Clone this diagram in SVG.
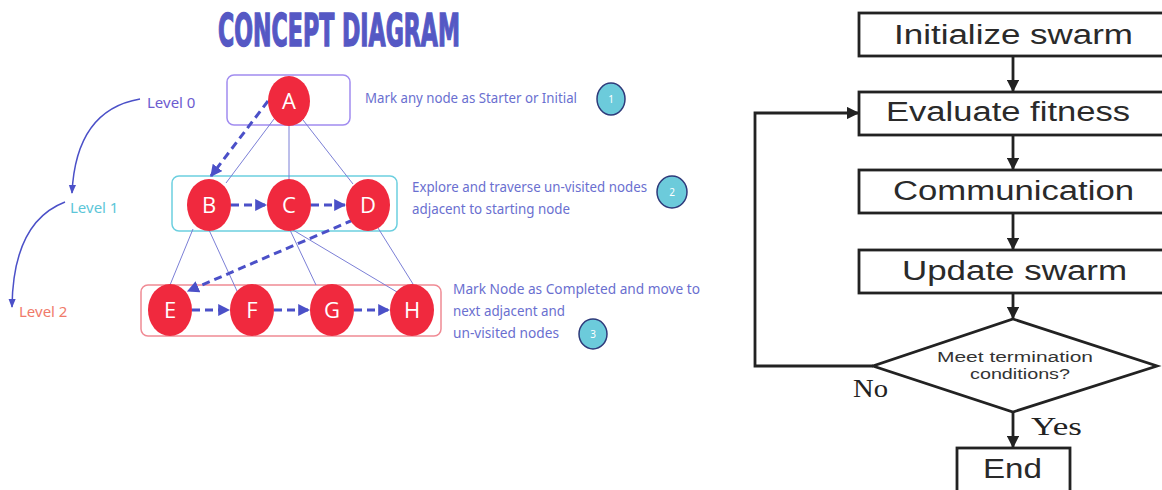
<svg xmlns="http://www.w3.org/2000/svg" width="1162" height="490" viewBox="0 0 1162 490">
<defs>
<marker id="dh" viewBox="0 0 10 10" refX="9" refY="5" markerWidth="4" markerHeight="4" orient="auto" markerUnits="strokeWidth"><path d="M0,0 L10,5 L0,10 z" fill="#4B50C8"/></marker>
<marker id="ch" viewBox="0 0 10 10" refX="9" refY="5" markerWidth="6" markerHeight="6" orient="auto" markerUnits="strokeWidth"><path d="M0,1 L10,5 L0,9 z" fill="#4B50C8"/></marker>
<marker id="bh" viewBox="0 0 10 10" refX="9" refY="5" markerWidth="4.5" markerHeight="4.5" orient="auto" markerUnits="strokeWidth"><path d="M0,0 L10,5 L0,10 z" fill="#222"/></marker>
</defs>
<style>
.node ellipse{fill:#F0293E}
.node text{fill:#fff;font-family:"Open Sans","Noto Sans",sans-serif;font-size:22px;text-anchor:middle}
.thin{stroke:#7B7FD6;stroke-width:1;fill:none}
.dash{stroke:#4B50C8;stroke-width:3;stroke-dasharray:8 5;fill:none;marker-end:url(#dh)}
.curve{stroke:#4B50C8;stroke-width:1.5;fill:none;marker-end:url(#ch)}
.desc{fill:#6A6FD0;font-family:"Noto Sans","Open Sans",sans-serif;font-size:15px}
.lvl{font-family:"Noto Sans","Open Sans",sans-serif;font-size:15px}
.badge ellipse{fill:#6CCBDB;stroke:#2E3A7A;stroke-width:1.5}
.badge text{fill:#fff;font-family:"Noto Sans",sans-serif;font-size:10px;text-anchor:middle}
.fbox rect{fill:#fff;stroke:#222;stroke-width:2.8}
.fbox text{fill:#2a2a2a;font-family:"Liberation Sans",Arial,sans-serif;font-size:27px}
.fl{stroke:#222;stroke-width:2.8;fill:none}
.fla{stroke:#222;stroke-width:2.8;fill:none;marker-end:url(#bh)}
.serif{fill:#222;font-family:"Liberation Serif","Times New Roman",serif;font-size:26px}
</style>
<rect width="1162" height="490" fill="#fff"/>
<text x="218" y="46" font-family="'DejaVu Sans Condensed','DejaVu Sans',sans-serif" font-weight="bold" font-size="44" fill="#5558C4" stroke="#5558C4" stroke-width="1.4" textLength="242" lengthAdjust="spacingAndGlyphs">CONCEPT DIAGRAM</text>

<g id="level-boxes">
<rect x="227" y="75" width="123" height="50" rx="7" fill="none" stroke="#A18CF0" stroke-width="1.5"/>
<rect x="172" y="176" width="225" height="55" rx="7" fill="none" stroke="#6CCFDF" stroke-width="1.5"/>
<rect x="141" y="285" width="300" height="51" rx="7" fill="none" stroke="#F08A94" stroke-width="1.5"/>
</g>

<g id="level-labels">
<text class="lvl" x="147" y="108" fill="#6C5BD0">Level 0</text>
<text class="lvl" x="70" y="213" fill="#5CC6D8">Level 1</text>
<text class="lvl" x="19" y="317" fill="#F07A6A">Level 2</text>
</g>

<g id="connectors">
<path class="curve" d="M140,99 Q76,110 72,193"/>
<path class="curve" d="M65,202 Q13,222 12,307"/>
<line class="thin" x1="274" y1="119" x2="226" y2="183"/>
<line class="thin" x1="289" y1="126" x2="289" y2="179"/>
<line class="thin" x1="303" y1="120" x2="353" y2="184"/>
<line class="thin" x1="193" y1="229" x2="170" y2="285"/>
<line class="thin" x1="209" y1="230" x2="237" y2="291"/>
<line class="thin" x1="290" y1="230" x2="316" y2="285"/>
<line class="thin" x1="293" y1="230" x2="397" y2="292"/>
<line class="thin" x1="378" y1="228" x2="413" y2="284"/>
<line class="dash" x1="268" y1="101" x2="211" y2="176"/>
<line class="dash" x1="231" y1="205" x2="266" y2="205"/>
<line class="dash" x1="311" y1="205" x2="345" y2="205"/>
<line class="dash" x1="353" y1="220" x2="188" y2="291"/>
<line class="dash" x1="192" y1="310" x2="229" y2="310"/>
<line class="dash" x1="274" y1="310" x2="309" y2="310"/>
<line class="dash" x1="354" y1="310" x2="389" y2="310"/>
<line class="fla" x1="1013" y1="56" x2="1013" y2="91"/>
<line class="fla" x1="1013" y1="135" x2="1013" y2="169"/>
<line class="fla" x1="1013" y1="213" x2="1013" y2="249"/>
<line class="fla" x1="1013" y1="293" x2="1013" y2="318"/>
<line class="fla" x1="1013" y1="412" x2="1013" y2="447"/>
<polyline class="fla" points="873,366 755,366 755,113 858,113"/>
</g>

<g id="node-A" class="node"><ellipse cx="289" cy="101" rx="21" ry="25"/><text x="289" y="109">A</text></g>
<g id="node-B" class="node"><ellipse cx="209" cy="205" rx="22" ry="26"/><text x="209" y="213">B</text></g>
<g id="node-C" class="node"><ellipse cx="289" cy="205" rx="22" ry="26"/><text x="289" y="213">C</text></g>
<g id="node-D" class="node"><ellipse cx="368" cy="205" rx="22" ry="26"/><text x="368" y="213">D</text></g>
<g id="node-E" class="node"><ellipse cx="170" cy="310" rx="22" ry="26"/><text x="170" y="318">E</text></g>
<g id="node-F" class="node"><ellipse cx="252" cy="310" rx="22" ry="26"/><text x="252" y="318">F</text></g>
<g id="node-G" class="node"><ellipse cx="332" cy="310" rx="22" ry="26"/><text x="332" y="318">G</text></g>
<g id="node-H" class="node"><ellipse cx="412" cy="310" rx="22" ry="26"/><text x="412" y="318">H</text></g>

<g id="notes">
<text class="desc" x="365" y="103" textLength="212" lengthAdjust="spacingAndGlyphs">Mark any node as Starter or Initial</text>
<text class="desc" x="412" y="192" textLength="235" lengthAdjust="spacingAndGlyphs">Explore and traverse un-visited nodes</text>
<text class="desc" x="412" y="214" textLength="158" lengthAdjust="spacingAndGlyphs">adjacent to starting node</text>
<text class="desc" x="453" y="294" textLength="247" lengthAdjust="spacingAndGlyphs">Mark Node as Completed and move to</text>
<text class="desc" x="453" y="316" textLength="112" lengthAdjust="spacingAndGlyphs">next adjacent and</text>
<text class="desc" x="453" y="338" textLength="106" lengthAdjust="spacingAndGlyphs">un-visited nodes</text>
</g>
<g id="badge-1" class="badge"><ellipse cx="611" cy="99" rx="14" ry="16"/><text x="611" y="103">1</text></g>
<g id="badge-2" class="badge"><ellipse cx="672" cy="192" rx="15" ry="16"/><text x="672" y="196">2</text></g>
<g id="badge-3" class="badge"><ellipse cx="593" cy="334" rx="14" ry="15"/><text x="593" y="338">3</text></g>

<g id="init" class="fbox"><rect x="859" y="13" width="320" height="43"/><text x="894" y="44" textLength="239" lengthAdjust="spacingAndGlyphs">Initialize swarm</text></g>
<g id="evaluate" class="fbox"><rect x="859" y="92" width="320" height="43"/><text x="886" y="121" textLength="244" lengthAdjust="spacingAndGlyphs">Evaluate fitness</text></g>
<g id="communication" class="fbox"><rect x="859" y="170" width="320" height="43"/><text x="893" y="200" textLength="241" lengthAdjust="spacingAndGlyphs">Communication</text></g>
<g id="update" class="fbox"><rect x="859" y="250" width="320" height="43"/><text x="902" y="280" textLength="225" lengthAdjust="spacingAndGlyphs">Update swarm</text></g>
<g id="decision"><polygon points="1013,319 1157,366 1013,412 873,366" fill="#fff" stroke="#222" stroke-width="2.8"/>
<text x="1015" y="362" text-anchor="middle" font-family="'Liberation Sans',Arial,sans-serif" font-size="14" fill="#333" textLength="156" lengthAdjust="spacingAndGlyphs">Meet termination</text>
<text x="1020" y="379" text-anchor="middle" font-family="'Liberation Sans',Arial,sans-serif" font-size="14" fill="#333" textLength="100" lengthAdjust="spacingAndGlyphs">conditions?</text></g>
<g id="end" class="fbox"><rect x="957" y="448" width="113" height="60"/><text x="983" y="478" textLength="59" lengthAdjust="spacingAndGlyphs">End</text></g>
<text class="serif" x="853" y="397" textLength="35" lengthAdjust="spacingAndGlyphs">No</text>
<text class="serif" x="1031" y="435" textLength="51" lengthAdjust="spacingAndGlyphs">Yes</text>
</svg>
